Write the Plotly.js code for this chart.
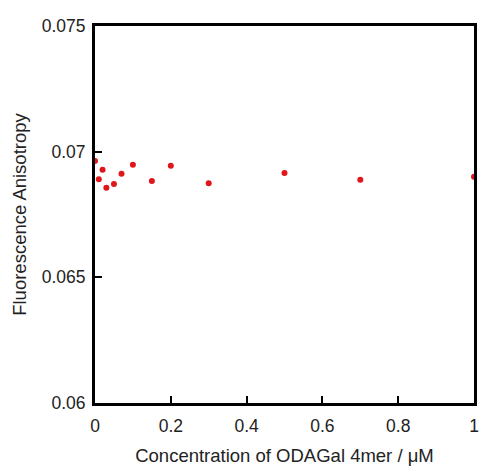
<!DOCTYPE html>
<html>
<head>
<meta charset="utf-8">
<script src="https://cdn.plot.ly/plotly-3.0.1.min.js"></script>
<style>html,body{margin:0;padding:0;background:#fff;}#chart{width:479px;height:466px;}</style>
</head>
<body>
<div id="chart"></div>
<script>
const concentration = [0, 0.01, 0.02, 0.03, 0.05, 0.07, 0.1, 0.15, 0.2, 0.3, 0.5, 0.7, 1.0];
const anisotropy = [0.06963, 0.06890, 0.06928, 0.06856, 0.06871, 0.06912, 0.06948, 0.06883, 0.06944, 0.06874, 0.06915, 0.06888, 0.06900];
const xTickVals = [0, 0.2, 0.4, 0.6, 0.8, 1];
const xTickText = ["0", "0.2", "0.4", "0.6", "0.8", "1"];
const yTickVals = [0.06, 0.065, 0.07, 0.075];
const yTickText = ["0.06", "0.065", "0.07", "0.075"];

const trace = {
  x: concentration,
  y: anisotropy,
  mode: 'markers',
  type: 'scatter',
  marker: {color: '#e0161b', size: 6},
  cliponaxis: false,
  hoverinfo: 'none'
};

const layout = {
  width: 479, height: 466,
  margin: {l: 95, r: 5, t: 26, b: 63},
  paper_bgcolor: '#fff', plot_bgcolor: '#fff',
  showlegend: false,
  font: {family: '"Liberation Sans", Arial, sans-serif', size: 17.5, color: '#222'},
  xaxis: {
    range: [0, 1],
    tickvals: xTickVals, ticktext: xTickText,
    ticks: 'inside', ticklen: 7, tickwidth: 2, tickcolor: '#000',
    showline: true, linewidth: 3, linecolor: '#000', mirror: true,
    showgrid: false, zeroline: false,
    ticklabelstandoff: 5,
    tickfont: {size: 17.5, color: '#222'},
    title: {text: 'Concentration of ODAGal 4mer / μM', font: {size: 18.5, color: '#222'}, standoff: 16}
  },
  yaxis: {
    range: [0.06, 0.075],
    tickvals: yTickVals, ticktext: yTickText,
    ticks: 'inside', ticklen: 7, tickwidth: 2, tickcolor: '#000',
    showline: true, linewidth: 3, linecolor: '#000', mirror: true,
    showgrid: false, zeroline: false,
    ticklabelstandoff: 3,
    tickfont: {size: 17.5, color: '#222'},
    title: {text: 'Fluorescence Anisotropy', font: {size: 18.5, color: '#222'}, standoff: 11}
  }
};

Plotly.newPlot('chart', [trace], layout, {displayModeBar: false, staticPlot: true});
</script>
</body>
</html>
